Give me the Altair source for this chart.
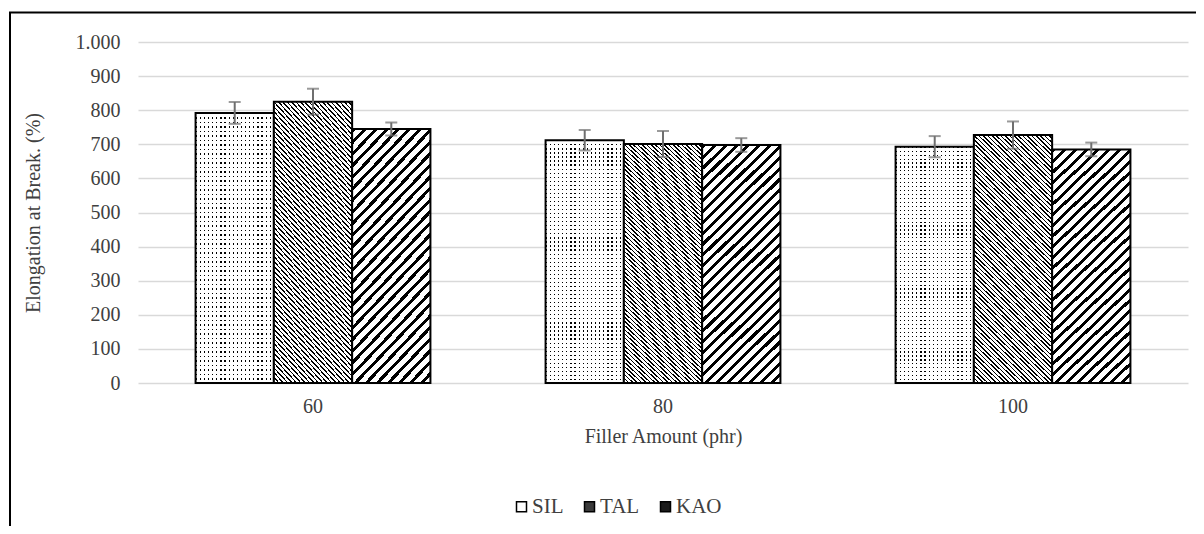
import altair as alt
import pandas as pd

# ---- data ----
fillers = ["60", "80", "100"]
series = ["SIL", "TAL", "KAO"]
sil_vals = [792, 712, 693]
tal_vals = [825, 701, 727]
kao_vals = [745, 698, 685]
sil_err = [32, 30, 31]
tal_err = [38, 38, 40]
kao_err = [19, 20, 20]
y_ticks = [0, 100, 200, 300, 400, 500, 600, 700, 800, 900, 1000]

rows = []
for s, vals, errs in [("SIL", sil_vals, sil_err), ("TAL", tal_vals, tal_err), ("KAO", kao_vals, kao_err)]:
    for f, v, e in zip(fillers, vals, errs):
        rows.append({"filler": f, "series": s, "value": v, "lo": v - e, "hi": v + e})
df = pd.DataFrame(rows)

# ---- pattern helpers (SVG gradients in bounding-box units) ----
def stripe_stops(n, frac, ink, bg):
    stops = []
    for i in range(n):
        a = i / n
        b = (i + frac) / n
        c = (i + 1) / n
        stops += [{"offset": a, "color": ink}, {"offset": b, "color": ink},
                  {"offset": b, "color": bg}, {"offset": c, "color": bg}]
    return stops

def diag(w, h, period, frac, rising):
    k = (w + h) / (w * w + h * h)
    n = max(1, round((w + h) / (2 ** 0.5 * period)))
    if rising:  # "/" stripes
        g = {"x1": 0, "y1": 0, "x2": k * w, "y2": k * h}
    else:       # "\" stripes
        g = {"x1": 0, "y1": 1, "x2": k * w, "y2": 1 - k * h}
    g.update({"gradient": "linear", "stops": stripe_stops(n, frac, "black", "white")})
    return g

BW = 78.3
sil_dots_v = {"gradient": "linear", "x1": 0, "y1": 0, "x2": 1, "y2": 0,
              "stops": stripe_stops(19, 0.3, "black", "white")}
sil_dots_h = {"gradient": "linear", "x1": 0, "y1": 0, "x2": 0, "y2": 1,
              "stops": stripe_stops(60, 0.3, "rgba(255,255,255,0)", "white")}
tal_fill = diag(BW, 256, 3.1, 0.36, rising=False)
kao_fill = diag(BW, 242, 7.8, 0.38, rising=True)

FONT = "Liberation Serif"
TXT = "#404040"

x_enc = alt.X("filler:N", sort=fillers,
              scale=alt.Scale(paddingInner=0.329, paddingOuter=0.1645),
              axis=alt.Axis(title="Filler Amount (phr)", labelAngle=0, labelPadding=13,
                            titlePadding=10, grid=False, domain=False, ticks=False))
xo_enc = alt.XOffset("series:N", scale=alt.Scale(domain=series, paddingInner=0, paddingOuter=0))
y_scale = alt.Scale(domain=[0, 1000], nice=False)
y_axis = alt.Axis(title="Elongation at Break. (%)", values=y_ticks,
                  labelExpr="datum.value == 1000 ? '1.000' : datum.label",
                  labelPadding=18, titlePadding=32, domain=False, ticks=False,
                  gridColor="#d9d9d9", gridWidth=1.5, labelOverlap=False)

def yq(field):
    return alt.Y(field, type="quantitative", scale=y_scale, axis=y_axis)

base = alt.Chart(df)

def bars(s, fill, stroke=True):
    kw = {"fill": fill}
    if stroke:
        kw.update({"stroke": "black", "strokeWidth": 2})
    else:
        kw.update({"strokeWidth": 0})
    return base.transform_filter(alt.datum.series == s).mark_bar(**kw).encode(
        x=x_enc, xOffset=xo_enc, y=yq("value"))

sil_a = bars("SIL", sil_dots_v, stroke=False)
sil_b = bars("SIL", sil_dots_h)
tal_b = bars("TAL", tal_fill)
kao_b = bars("KAO", kao_fill)

ERR = "#6f6f6f"
err_rule = base.mark_rule(color=ERR, strokeWidth=2).encode(
    x=x_enc, xOffset=xo_enc, y=yq("lo"), y2="hi:Q")
cap_lo = base.mark_tick(color=ERR, size=12, thickness=2).encode(
    x=x_enc, xOffset=xo_enc, y=yq("lo"))
cap_hi = base.mark_tick(color=ERR, size=12, thickness=2).encode(
    x=x_enc, xOffset=xo_enc, y=yq("hi"))

legend_layer = base.mark_square(size=100, opacity=1).encode(
    x=alt.value(-600), y=alt.value(-600),
    fill=alt.Fill("series:N",
                  scale=alt.Scale(domain=series, range=["#ffffff", "#3a3a3a", "#1a1a1a"]),
                  legend=alt.Legend(title=None, orient="none", legendX=373, legendY=454,
                                    direction="horizontal", symbolType="square",
                                    symbolSize=100, symbolStrokeColor="black",
                                    symbolStrokeWidth=1.5, labelFont=FONT, labelFontSize=21,
                                    labelColor=TXT, labelOffset=0, columnPadding=15,
                                    padding=0)))

frame_data = alt.Data(values=[{"k": 1}])
frame_left = alt.Chart(frame_data).mark_rule(color="black", strokeWidth=2).encode(
    x=alt.value(-128), y=alt.value(-29.5), y2=alt.value(600))
frame_top = alt.Chart(frame_data).mark_rule(color="black", strokeWidth=2).encode(
    x=alt.value(-129), x2=alt.value(1200), y=alt.value(-29.5))

chart = alt.layer(sil_a, sil_b, tal_b, kao_b, err_rule, cap_lo, cap_hi, legend_layer,
                  frame_left, frame_top).properties(
    width=1050, height=341,
    padding={"left": 130, "top": 34, "right": 8, "bottom": 143},
    autosize=alt.AutoSizeParams(type="none"),
    background="white",
).configure_view(stroke=None).configure_axis(
    labelFont=FONT, labelFontSize=20, labelColor=TXT,
    titleFont=FONT, titleFontSize=20, titleFontWeight="normal", titleColor=TXT,
)

chart.save("out.html", embed_options={"renderer": "svg", "actions": False})
